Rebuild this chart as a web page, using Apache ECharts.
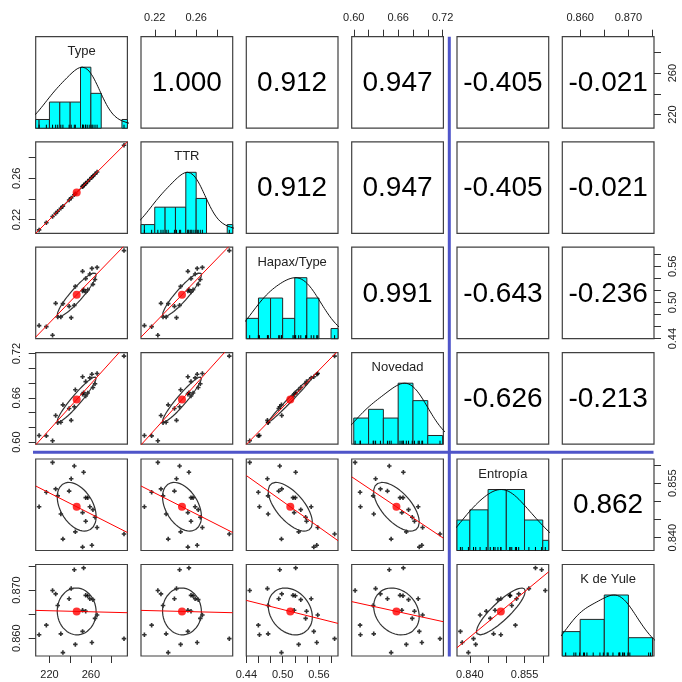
<!DOCTYPE html>
<html>
<head>
<meta charset="utf-8">
<script src="https://cdn.jsdelivr.net/npm/echarts@6/dist/echarts.min.js"></script>
<style>
  html, body { margin: 0; padding: 0; background: #ffffff; }
  #chart { width: 682px; height: 682px; }
</style>
</head>
<body>
<div id="chart"></div>
<script>
// ---- data: 23 text windows, six lexical measures ----
const varNames = ['Type', 'TTR', 'Hapax/Type', 'Novedad', 'Entropía', 'K de Yule'];

const typeVals = [210, 217, 223, 226, 228, 231, 233, 239, 241, 244, 245, 252,
                  252, 253, 255, 255, 257, 259, 261, 262, 264, 266, 292];
const ttrVals = [0.210, 0.217, 0.223, 0.226, 0.228, 0.231, 0.233, 0.239, 0.241, 0.244, 0.245, 0.252,
                 0.252, 0.253, 0.255, 0.255, 0.257, 0.259, 0.261, 0.262, 0.264, 0.266, 0.292];
const hapaxVals = [0.4616, 0.4598, 0.4455, 0.4985, 0.4758, 0.4760, 0.4980, 0.4935, 0.4748, 0.4952, 0.5265, 0.5190,
                   0.5515, 0.5215, 0.5171, 0.5395, 0.5209, 0.5472, 0.5564, 0.5300, 0.5380, 0.5580, 0.5859];
const novedadVals = [0.6090, 0.6085, 0.6018, 0.6360, 0.6262, 0.6270, 0.6505, 0.6455, 0.6295, 0.6480, 0.6710, 0.6650,
                     0.6885, 0.6670, 0.6625, 0.6820, 0.6665, 0.6870, 0.6920, 0.6740, 0.6790, 0.6930, 0.7165];
const entropiaVals = [0.8485, 0.8525, 0.8607, 0.8534, 0.8515, 0.8465, 0.8396, 0.8528, 0.8562, 0.8597, 0.8416, 0.8469,
                      0.8374, 0.8580, 0.8510, 0.8445, 0.8510, 0.8485, 0.8379, 0.8477, 0.8456, 0.8428, 0.8410];
const yuleVals = [0.8607, 0.8627, 0.8699, 0.8692, 0.8668, 0.8609, 0.8570, 0.8682, 0.8703, 0.8742, 0.8587, 0.8658,
                  0.8614, 0.8746, 0.8689, 0.8656, 0.8688, 0.8682, 0.8591, 0.8680, 0.8641, 0.8648, 0.8599];

// Pearson correlations, upper triangle row by row
const corrType = [1.000, 0.912, 0.947, -0.405, -0.021];
const corrTTR = [0.912, 0.947, -0.405, -0.021];
const corrHapax = [0.991, -0.643, -0.236];
const corrNovedad = [-0.626, -0.213];
const corrEntropia = [0.862];

// histogram break points
const typeBreaks = [200, 210, 220, 230, 240, 250, 260, 270, 280, 290, 300];
const ttrBreaks = [0.20, 0.21, 0.22, 0.23, 0.24, 0.25, 0.26, 0.27, 0.28, 0.29, 0.30];
const hapaxBreaks = [0.44, 0.46, 0.48, 0.50, 0.52, 0.54, 0.56, 0.58, 0.60];
const novedadBreaks = [0.60, 0.62, 0.64, 0.66, 0.68, 0.70, 0.72];
const entropiaBreaks = [0.835, 0.840, 0.845, 0.850, 0.855, 0.860, 0.865];
const yuleBreaks = [0.855, 0.860, 0.865, 0.870, 0.875];

// outer axis ticks and labels
const typeTicks = [220, 240, 260, 280];
const typeLabels = [220, 260];
const ttrTicks = [0.22, 0.24, 0.26, 0.28];
const ttrLabels = [0.22, 0.26];
const hapaxTicks = [0.44, 0.46, 0.48, 0.50, 0.52, 0.54, 0.56, 0.58];
const hapaxLabels = [0.44, 0.50, 0.56];
const novedadTicks = [0.60, 0.62, 0.64, 0.66, 0.68, 0.70, 0.72];
const novedadLabels = [0.60, 0.66, 0.72];
const entropiaTicks = [0.840, 0.845, 0.850, 0.855, 0.860];
const entropiaLabels = [0.840, 0.855];
const yuleTicks = [0.860, 0.865, 0.870, 0.875];
const yuleLabels = [0.860, 0.870];

// ---- assembly ----
const vars = [typeVals, ttrVals, hapaxVals, novedadVals, entropiaVals, yuleVals];
const breaks = [typeBreaks, ttrBreaks, hapaxBreaks, novedadBreaks, entropiaBreaks, yuleBreaks];
const ticks = [typeTicks, ttrTicks, hapaxTicks, novedadTicks, entropiaTicks, yuleTicks];
const labels = [typeLabels, ttrLabels, hapaxLabels, novedadLabels, entropiaLabels, yuleLabels];
const decimals = [0, 2, 2, 2, 3, 3];
const corrRows = [corrType, corrTTR, corrHapax, corrNovedad, corrEntropia];

const FONT = '"Liberation Sans", Arial, sans-serif';
const colLeft = [35.7, 141.0, 246.3, 351.7, 457.0, 562.3];
const rowTop = [36.7, 141.8, 247.2, 352.7, 459.0, 564.5];
const PW = 91.7, PH = 91.5;

function mean(a) { return a.reduce((s, v) => s + v, 0) / a.length; }
function sd(a) { const m = mean(a); return Math.sqrt(a.reduce((s, v) => s + (v - m) * (v - m), 0) / (a.length - 1)); }
function quantile(a, p) {
  const s = a.slice().sort((x, y) => x - y);
  const h = (s.length - 1) * p, lo = Math.floor(h);
  return lo + 1 < s.length ? s[lo] + (h - lo) * (s[lo + 1] - s[lo]) : s[lo];
}
function bwNrd(a) {
  const iqr = (quantile(a, 0.75) - quantile(a, 0.25)) / 1.34;
  return 1.06 * Math.min(sd(a), iqr) * Math.pow(a.length, -0.2);
}
function corr(i, j) {
  const a = Math.min(i, j), b = Math.max(i, j);
  return corrRows[a][b - a - 1];
}
const ranges = vars.map(a => {
  const lo = Math.min(...a), hi = Math.max(...a), d = hi - lo;
  return [lo - 0.04 * d, hi + 0.04 * d];
});
const means = vars.map(mean);
const sds = vars.map(sd);

function histBins(vals, br) {
  const counts = new Array(br.length - 1).fill(0);
  vals.forEach(v => {
    for (let k = 0; k < br.length - 1; k++) {
      const tol = 1e-9 * Math.abs(br[k + 1]);
      if (v <= br[k + 1] + tol && (k === 0 || v > br[k] + tol)) { counts[k]++; break; }
    }
  });
  const mx = Math.max(...counts);
  return counts.map((c, k) => [br[k], br[k + 1], c / mx]).filter(b => b[2] > 0);
}

function densityCurve(vals) {
  const bw = bwNrd(vals) * 1.2;
  const lo = Math.min(...vals) - 3 * bw, hi = Math.max(...vals) + 3 * bw;
  const pts = [];
  for (let k = 0; k < 512; k++) {
    const x = lo + (hi - lo) * k / 511;
    let s = 0;
    vals.forEach(v => { const z = (x - v) / bw; s += Math.exp(-0.5 * z * z); });
    pts.push([x, s]);
  }
  const mx = Math.max(...pts.map(p => p[1]));
  return pts.map(p => [p[0], p[1] / mx]);
}

function ellipsePts(mx, my, sx, sy, r) {
  const seg = 51, th = (r !== 0 ? Math.sign(r) : 1) / Math.SQRT2;
  const a = Math.sqrt(1 + r), b = Math.sqrt(Math.max(0, 1 - r));
  const pts = [];
  for (let k = 0; k <= seg; k++) {
    const t = 2 * Math.PI * k / seg, c = Math.cos(t), s = Math.sin(t);
    pts.push([mx + (c * a * th - s * b * th) * sx, my + (c * a * th + s * b * th) * sy]);
  }
  return pts;
}

const plusPath = 'path://M1.6,0H3.4V1.6H5V3.4H3.4V5H1.6V3.4H0V1.6H1.6Z';
const grids = [], xAxes = [], yAxes = [], series = [], graphics = [];

function outerAxis(v, position, isY) {
  const ax = {
    position: position,
    axisTick: { show: true, inside: false, length: 7, customValues: ticks[v],
                lineStyle: { color: '#333', width: 1 } },
    axisLabel: { show: true, customValues: labels[v], margin: 13,
                 fontSize: 11, fontFamily: FONT, color: '#222',
                 formatter: val => Number(val).toFixed(decimals[v]) }
  };
  if (isY) ax.axisLabel.rotate = 90;
  return ax;
}

for (let i = 0; i < 6; i++) {
  for (let j = 0; j < 6; j++) {
    const idx = i * 6 + j;
    grids.push({ left: colLeft[j], top: rowTop[i], width: PW, height: PH,
                 show: true, borderColor: '#404040', borderWidth: 1.2, backgroundColor: 'transparent' });
    const xa = { gridIndex: idx, type: 'value', min: ranges[j][0], max: ranges[j][1],
                 axisLine: { show: false }, splitLine: { show: false },
                 axisTick: { show: false }, axisLabel: { show: false } };
    const ya = { gridIndex: idx, type: 'value',
                 min: i === j ? 0 : ranges[i][0], max: i === j ? 1.5 : ranges[i][1],
                 axisLine: { show: false }, splitLine: { show: false },
                 axisTick: { show: false }, axisLabel: { show: false } };
    if (i === 0 && j % 2 === 1) Object.assign(xa, outerAxis(j, 'top', false));
    if (i === 5 && j % 2 === 0) Object.assign(xa, outerAxis(j, 'bottom', false));
    if (j === 0 && i % 2 === 1) Object.assign(ya, outerAxis(i, 'left', true));
    if (j === 5 && i % 2 === 0) Object.assign(ya, outerAxis(i, 'right', true));
    xAxes.push(xa);
    yAxes.push(ya);

    const cx = colLeft[j] + PW / 2, cy = rowTop[i] + PH / 2;
    if (i < j) {
      // correlation coefficient
      graphics.push({ type: 'text', x: cx, y: cy + 1, silent: true,
        style: { text: corr(i, j).toFixed(3), fill: '#000', font: '28px ' + FONT,
                 align: 'center', verticalAlign: 'middle',
                 textAlign: 'center', textVerticalAlign: 'middle' } });
    } else if (i === j) {
      const vals = vars[i];
      // histogram scaled to its tallest bar
      series.push({ type: 'custom', xAxisIndex: idx, yAxisIndex: idx, silent: true, z: 2,
        data: histBins(vals, breaks[i]),
        renderItem: (params, api) => {
          const p0 = api.coord([api.value(0), 0]);
          const p1 = api.coord([api.value(1), api.value(2)]);
          const rect = echarts.graphic.clipRectByRect(
            { x: p0[0], y: p1[1], width: p1[0] - p0[0], height: p0[1] - p1[1] }, params.coordSys);
          if (!rect) return null;
          return { type: 'rect', shape: rect, style: { fill: '#00FFFF', stroke: '#262626', lineWidth: 1 } };
        } });
      // kernel density, peak scaled to 1
      series.push({ type: 'line', xAxisIndex: idx, yAxisIndex: idx, silent: true, z: 3,
        data: densityCurve(vals), symbol: 'none', clip: true,
        lineStyle: { color: '#111', width: 1 } });
      // rug
      series.push({ type: 'custom', xAxisIndex: idx, yAxisIndex: idx, silent: true, z: 4,
        data: vals.map(v => [v]),
        renderItem: (params, api) => {
          const p = api.coord([api.value(0), 0]);
          return { type: 'line', shape: { x1: p[0], y1: p[1], x2: p[0], y2: p[1] - 3.5 },
                   style: { stroke: '#000', lineWidth: 1 } };
        } });
      graphics.push({ type: 'text', x: cx, y: rowTop[i] + 15, silent: true, z: 10,
        style: { text: varNames[i], fill: '#222', font: '13px ' + FONT,
                 align: 'center', verticalAlign: 'middle',
                 textAlign: 'center', textVerticalAlign: 'middle' } });
    } else {
      const xs = vars[j], ys = vars[i];
      const r = corr(i, j);
      const mx = means[j], my = means[i];
      const slope = r * sds[i] / sds[j];
      series.push({ type: 'scatter', xAxisIndex: idx, yAxisIndex: idx, silent: true, z: 2,
        data: xs.map((x, k) => [x, ys[k]]), symbol: plusPath, symbolSize: 4.5,
        itemStyle: { color: '#000' } });
      series.push({ type: 'line', xAxisIndex: idx, yAxisIndex: idx, silent: true, z: 3,
        data: ellipsePts(mx, my, sds[j], sds[i], r), symbol: 'none',
        lineStyle: { color: '#333', width: 1.2 } });
      series.push({ type: 'line', xAxisIndex: idx, yAxisIndex: idx, silent: true, z: 4,
        data: ranges[j].map(x => [x, my + slope * (x - mx)]), symbol: 'none', clip: true,
        lineStyle: { color: '#FF0000', width: 1 } });
      series.push({ type: 'scatter', xAxisIndex: idx, yAxisIndex: idx, silent: true, z: 5,
        data: [[mx, my]], symbol: 'circle', symbolSize: 8, itemStyle: { color: '#FF0000' } });
    }
  }
}

// separators between the lexical-richness block and the rest
graphics.push({ type: 'line', silent: true, z: 20,
  shape: { x1: 449.3, y1: 36.7, x2: 449.3, y2: 656.5 },
  style: { stroke: '#4F55C9', lineWidth: 3 } });
graphics.push({ type: 'line', silent: true, z: 20,
  shape: { x1: 33, y1: 452.3, x2: 653.5, y2: 452.3 },
  style: { stroke: '#4F55C9', lineWidth: 3 } });

const chart = echarts.init(document.getElementById('chart'), null, { renderer: 'canvas' });
chart.setOption({
  animation: false,
  backgroundColor: '#ffffff',
  grid: grids,
  xAxis: xAxes,
  yAxis: yAxes,
  series: series,
  graphic: { elements: graphics }
});
</script>
</body>
</html>
